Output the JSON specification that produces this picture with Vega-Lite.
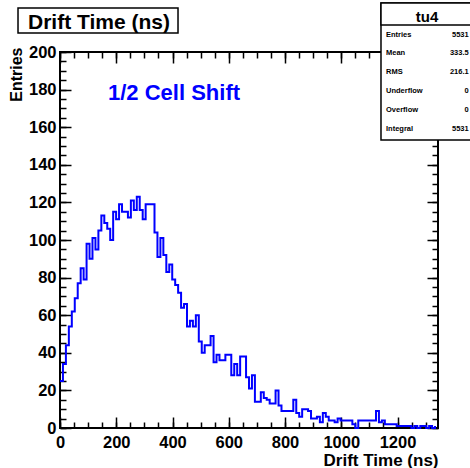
{
  "$schema": "https://vega.github.io/schema/vega-lite/v6.json",
  "width": 378,
  "height": 376,
  "autosize": {"type": "none"},
  "padding": {"left": 60, "top": 52, "right": 32, "bottom": 40},
  "background": "white",
  "config": {
    "view": {"stroke": "black", "strokeWidth": 2},
    "font": "Liberation Sans",
    "axis": {
      "labelFont": "Liberation Sans", "labelFontWeight": "bold", "labelFontSize": 16.5, "labelColor": "black",
      "tickColor": "black", "tickWidth": 1.5, "domain": false, "grid": false,
      "titleFont": "Liberation Sans", "titleFontWeight": "bold", "titleFontSize": 17, "titleColor": "black",
      "labelFlush": false, "labelOverlap": false, "format": "d"
    }
  },
  "datasets": {
    "hist": [
      {"t": 0, "n": 25}, {"t": 10.5, "n": 34}, {"t": 21, "n": 44}, {"t": 31.5, "n": 54}, {"t": 42, "n": 62},
      {"t": 52.5, "n": 69}, {"t": 63, "n": 77}, {"t": 73.5, "n": 85}, {"t": 84, "n": 79}, {"t": 94.5, "n": 98},
      {"t": 105, "n": 90}, {"t": 115.5, "n": 101}, {"t": 126, "n": 95}, {"t": 136.5, "n": 105}, {"t": 147, "n": 113},
      {"t": 157.5, "n": 109}, {"t": 168, "n": 106}, {"t": 178.5, "n": 100}, {"t": 189, "n": 115}, {"t": 199.5, "n": 111},
      {"t": 210, "n": 119}, {"t": 220.5, "n": 115}, {"t": 231, "n": 115}, {"t": 241.5, "n": 112}, {"t": 252, "n": 121},
      {"t": 262.5, "n": 116}, {"t": 273, "n": 123}, {"t": 283.5, "n": 116}, {"t": 294, "n": 111}, {"t": 304.5, "n": 119},
      {"t": 315, "n": 119}, {"t": 325.5, "n": 119}, {"t": 336, "n": 104}, {"t": 346.5, "n": 91}, {"t": 357, "n": 101},
      {"t": 367.5, "n": 92}, {"t": 378, "n": 83}, {"t": 388.5, "n": 87}, {"t": 399, "n": 79}, {"t": 409.5, "n": 76},
      {"t": 420, "n": 72}, {"t": 430.5, "n": 64}, {"t": 441, "n": 66}, {"t": 451.5, "n": 54}, {"t": 462, "n": 57},
      {"t": 472.5, "n": 54}, {"t": 483, "n": 60}, {"t": 493.5, "n": 46}, {"t": 504, "n": 40}, {"t": 514.5, "n": 44},
      {"t": 525, "n": 44}, {"t": 535.5, "n": 49}, {"t": 546, "n": 35}, {"t": 556.5, "n": 39}, {"t": 567, "n": 36},
      {"t": 577.5, "n": 36}, {"t": 588, "n": 39}, {"t": 598.5, "n": 39}, {"t": 609, "n": 28}, {"t": 619.5, "n": 34},
      {"t": 630, "n": 28}, {"t": 640.5, "n": 38}, {"t": 651, "n": 38}, {"t": 661.5, "n": 27}, {"t": 672, "n": 21},
      {"t": 682.5, "n": 28}, {"t": 693, "n": 14}, {"t": 703.5, "n": 14}, {"t": 714, "n": 19}, {"t": 724.5, "n": 16},
      {"t": 735, "n": 15}, {"t": 745.5, "n": 13}, {"t": 756, "n": 13}, {"t": 766.5, "n": 20}, {"t": 777, "n": 12},
      {"t": 787.5, "n": 9}, {"t": 798, "n": 9}, {"t": 808.5, "n": 9}, {"t": 819, "n": 9}, {"t": 829.5, "n": 15},
      {"t": 840, "n": 8}, {"t": 850.5, "n": 6}, {"t": 861, "n": 10}, {"t": 871.5, "n": 10}, {"t": 882, "n": 9},
      {"t": 892.5, "n": 5}, {"t": 903, "n": 5}, {"t": 913.5, "n": 6}, {"t": 924, "n": 3}, {"t": 934.5, "n": 8},
      {"t": 945, "n": 6}, {"t": 955.5, "n": 4}, {"t": 966, "n": 4}, {"t": 976.5, "n": 3}, {"t": 987, "n": 5},
      {"t": 997.5, "n": 4}, {"t": 1008, "n": 4}, {"t": 1018.5, "n": 4}, {"t": 1029, "n": 4}, {"t": 1039.5, "n": 2},
      {"t": 1050, "n": 0}, {"t": 1060.5, "n": 4}, {"t": 1071, "n": 4}, {"t": 1081.5, "n": 4}, {"t": 1092, "n": 4},
      {"t": 1102.5, "n": 4}, {"t": 1113, "n": 4}, {"t": 1123.5, "n": 9}, {"t": 1134, "n": 3}, {"t": 1144.5, "n": 4},
      {"t": 1155, "n": 2}, {"t": 1165.5, "n": 2}, {"t": 1176, "n": 2}, {"t": 1186.5, "n": 2}, {"t": 1197, "n": 1},
      {"t": 1207.5, "n": 1}, {"t": 1218, "n": 1}, {"t": 1228.5, "n": 1}, {"t": 1239, "n": 1}, {"t": 1249.5, "n": 0},
      {"t": 1260, "n": 1}, {"t": 1270.5, "n": 0}, {"t": 1281, "n": 1}, {"t": 1291.5, "n": 1}, {"t": 1302, "n": 0},
      {"t": 1312.5, "n": 1}, {"t": 1323, "n": 0}, {"t": 1333.5, "n": 1}
    ],
    "stats": [
      {"name": "Entries", "value": "5531"},
      {"name": "Mean", "value": "333.5"},
      {"name": "RMS", "value": "216.1"},
      {"name": "Underflow", "value": "0"},
      {"name": "Overflow", "value": "0"},
      {"name": "Integral", "value": "5531"}
    ],
    "one": [{}]
  },
  "resolve": {"scale": {"y": "independent"}, "axis": {"x": "independent", "y": "independent"}},
  "layer": [
    {
      "data": {"name": "hist"},
      "mark": {"type": "line", "interpolate": "step-after", "color": "#0000ff", "strokeWidth": 2},
      "encoding": {
        "x": {"field": "t", "type": "quantitative", "scale": {"domain": [0, 1344], "nice": false, "zero": false},
          "axis": {"orient": "bottom", "values": [0, 200, 400, 600, 800, 1000, 1200], "tickSize": -11, "labelPadding": 17,
            "title": "Drift Time (ns)", "titleAlign": "right", "titleAnchor": "end", "titleX": 378, "titleY": 37, "titleBaseline": "alphabetic"}},
        "y": {"field": "n", "type": "quantitative", "scale": {"domain": [0, 200], "nice": false},
          "axis": {"orient": "left", "values": [0, 20, 40, 60, 80, 100, 120, 140, 160, 180, 200], "tickSize": -11, "labelPadding": 15,
            "title": "Entries", "titleAngle": 270, "titleAlign": "right", "titleBaseline": "alphabetic", "titleX": -39, "titleY": -5, "titleFontSize": 16}}
      }
    },
    {
      "data": {"name": "hist"},
      "mark": {"type": "line", "interpolate": "step-after", "opacity": 0},
      "encoding": {
        "x": {"field": "t", "type": "quantitative", "scale": {"domain": [0, 1344], "nice": false, "zero": false},
          "axis": {"orient": "bottom", "values": [0, 50, 100, 150, 200, 250, 300, 350, 400, 450, 500, 550, 600, 650, 700, 750, 800, 850, 900, 950, 1000, 1050, 1100, 1150, 1200, 1250, 1300], "tickSize": -6, "labels": false, "title": null}},
        "y": {"field": "n", "type": "quantitative", "scale": {"domain": [0, 200], "nice": false},
          "axis": {"orient": "left", "values": [0, 5, 10, 15, 20, 25, 30, 35, 40, 45, 50, 55, 60, 65, 70, 75, 80, 85, 90, 95, 100, 105, 110, 115, 120, 125, 130, 135, 140, 145, 150, 155, 160, 165, 170, 175, 180, 185, 190, 195, 200], "tickSize": -6, "labels": false, "title": null}}
      }
    },
    {
      "data": {"name": "hist"},
      "mark": {"type": "line", "interpolate": "step-after", "opacity": 0},
      "encoding": {
        "x": {"field": "t", "type": "quantitative", "scale": {"domain": [0, 1344], "nice": false, "zero": false},
          "axis": {"orient": "top", "values": [0, 200, 400, 600, 800, 1000, 1200], "tickSize": -11, "labels": false, "title": null}},
        "y": {"field": "n", "type": "quantitative", "scale": {"domain": [0, 200], "nice": false},
          "axis": {"orient": "right", "values": [0, 20, 40, 60, 80, 100, 120, 140, 160, 180, 200], "tickSize": -11, "labels": false, "title": null}}
      }
    },
    {
      "data": {"name": "hist"},
      "mark": {"type": "line", "interpolate": "step-after", "opacity": 0},
      "encoding": {
        "x": {"field": "t", "type": "quantitative", "scale": {"domain": [0, 1344], "nice": false, "zero": false},
          "axis": {"orient": "top", "values": [0, 50, 100, 150, 200, 250, 300, 350, 400, 450, 500, 550, 600, 650, 700, 750, 800, 850, 900, 950, 1000, 1050, 1100, 1150, 1200, 1250, 1300], "tickSize": -6, "labels": false, "title": null}},
        "y": {"field": "n", "type": "quantitative", "scale": {"domain": [0, 200], "nice": false},
          "axis": {"orient": "right", "values": [0, 5, 10, 15, 20, 25, 30, 35, 40, 45, 50, 55, 60, 65, 70, 75, 80, 85, 90, 95, 100, 105, 110, 115, 120, 125, 130, 135, 140, 145, 150, 155, 160, 165, 170, 175, 180, 185, 190, 195, 200], "tickSize": -6, "labels": false, "title": null}}
      }
    },
    {
      "data": {"name": "one"},
      "mark": {"type": "rect", "fill": "white", "stroke": "black", "strokeWidth": 1.5},
      "encoding": {
        "x": {"datum": -149.3, "type": "quantitative", "scale": {"domain": [0, 1344], "nice": false, "zero": false}, "axis": null},
        "x2": {"datum": 419.6},
        "y": {"datum": 223.4, "type": "quantitative", "scale": {"domain": [0, 200], "nice": false}, "axis": null},
        "y2": {"datum": 210.1}
      }
    },
    {
      "data": {"name": "one"},
      "mark": {"type": "text", "text": "Drift Time (ns)", "font": "Liberation Sans", "fontWeight": "bold", "fontSize": 21, "align": "center", "baseline": "alphabetic", "color": "black"},
      "encoding": {
        "x": {"datum": 138.7, "type": "quantitative", "scale": {"domain": [0, 1344], "nice": false, "zero": false}, "axis": null},
        "y": {"datum": 212.5, "type": "quantitative", "scale": {"domain": [0, 200], "nice": false}, "axis": null}
      }
    },
    {
      "data": {"name": "one"},
      "mark": {"type": "text", "text": "1/2 Cell Shift", "font": "Liberation Sans", "fontWeight": "bold", "fontSize": 22, "align": "left", "baseline": "alphabetic", "color": "#0000ff"},
      "encoding": {
        "x": {"datum": 170.7, "type": "quantitative", "scale": {"domain": [0, 1344], "nice": false, "zero": false}, "axis": null},
        "y": {"datum": 174.5, "type": "quantitative", "scale": {"domain": [0, 200], "nice": false}, "axis": null}
      }
    },
    {
      "data": {"name": "one"},
      "mark": {"type": "rect", "fill": "white", "stroke": "black", "strokeWidth": 1.5},
      "encoding": {
        "x": {"datum": 1141.3, "type": "quantitative", "scale": {"domain": [0, 1344], "nice": false, "zero": false}, "axis": null},
        "x2": {"datum": 1520},
        "y": {"datum": 226.06, "type": "quantitative", "scale": {"domain": [0, 200], "nice": false}, "axis": null},
        "y2": {"datum": 153.2}
      }
    },
    {
      "data": {"name": "one"},
      "mark": {"type": "rect", "fill": "white", "stroke": "black", "strokeWidth": 1.5},
      "encoding": {
        "x": {"datum": 1141.3, "type": "quantitative", "scale": {"domain": [0, 1344], "nice": false, "zero": false}, "axis": null},
        "x2": {"datum": 1520},
        "y": {"datum": 226.06, "type": "quantitative", "scale": {"domain": [0, 200], "nice": false}, "axis": null},
        "y2": {"datum": 214.4}
      }
    },
    {
      "data": {"name": "one"},
      "mark": {"type": "text", "text": "tu4", "font": "Liberation Sans", "fontWeight": "bold", "fontSize": 15, "align": "center", "baseline": "alphabetic", "color": "black"},
      "encoding": {
        "x": {"datum": 1305, "type": "quantitative", "scale": {"domain": [0, 1344], "nice": false, "zero": false}, "axis": null},
        "y": {"datum": 216, "type": "quantitative", "scale": {"domain": [0, 200], "nice": false}, "axis": null}
      }
    },
    {
      "data": {"name": "stats"},
      "mark": {"type": "text", "font": "Liberation Sans", "fontWeight": "bold", "fontSize": 7.5, "align": "left", "baseline": "middle", "color": "black"},
      "encoding": {
        "text": {"field": "name", "type": "nominal"},
        "x": {"datum": 1159, "type": "quantitative", "scale": {"domain": [0, 1344], "nice": false, "zero": false}, "axis": null},
        "y": {"field": "name", "type": "nominal", "scale": {"type": "point", "domain": ["Entries", "Mean", "RMS", "Underflow", "Overflow", "Integral"], "range": [-17.5, 76.5], "padding": 0}, "axis": null}
      }
    },
    {
      "data": {"name": "stats"},
      "mark": {"type": "text", "font": "Liberation Sans", "fontWeight": "bold", "fontSize": 7.5, "align": "right", "baseline": "middle", "color": "black"},
      "encoding": {
        "text": {"field": "value", "type": "nominal"},
        "x": {"datum": 1453, "type": "quantitative", "scale": {"domain": [0, 1344], "nice": false, "zero": false}, "axis": null},
        "y": {"field": "name", "type": "nominal", "scale": {"type": "point", "domain": ["Entries", "Mean", "RMS", "Underflow", "Overflow", "Integral"], "range": [-17.5, 76.5], "padding": 0}, "axis": null}
      }
    }
  ]
}
